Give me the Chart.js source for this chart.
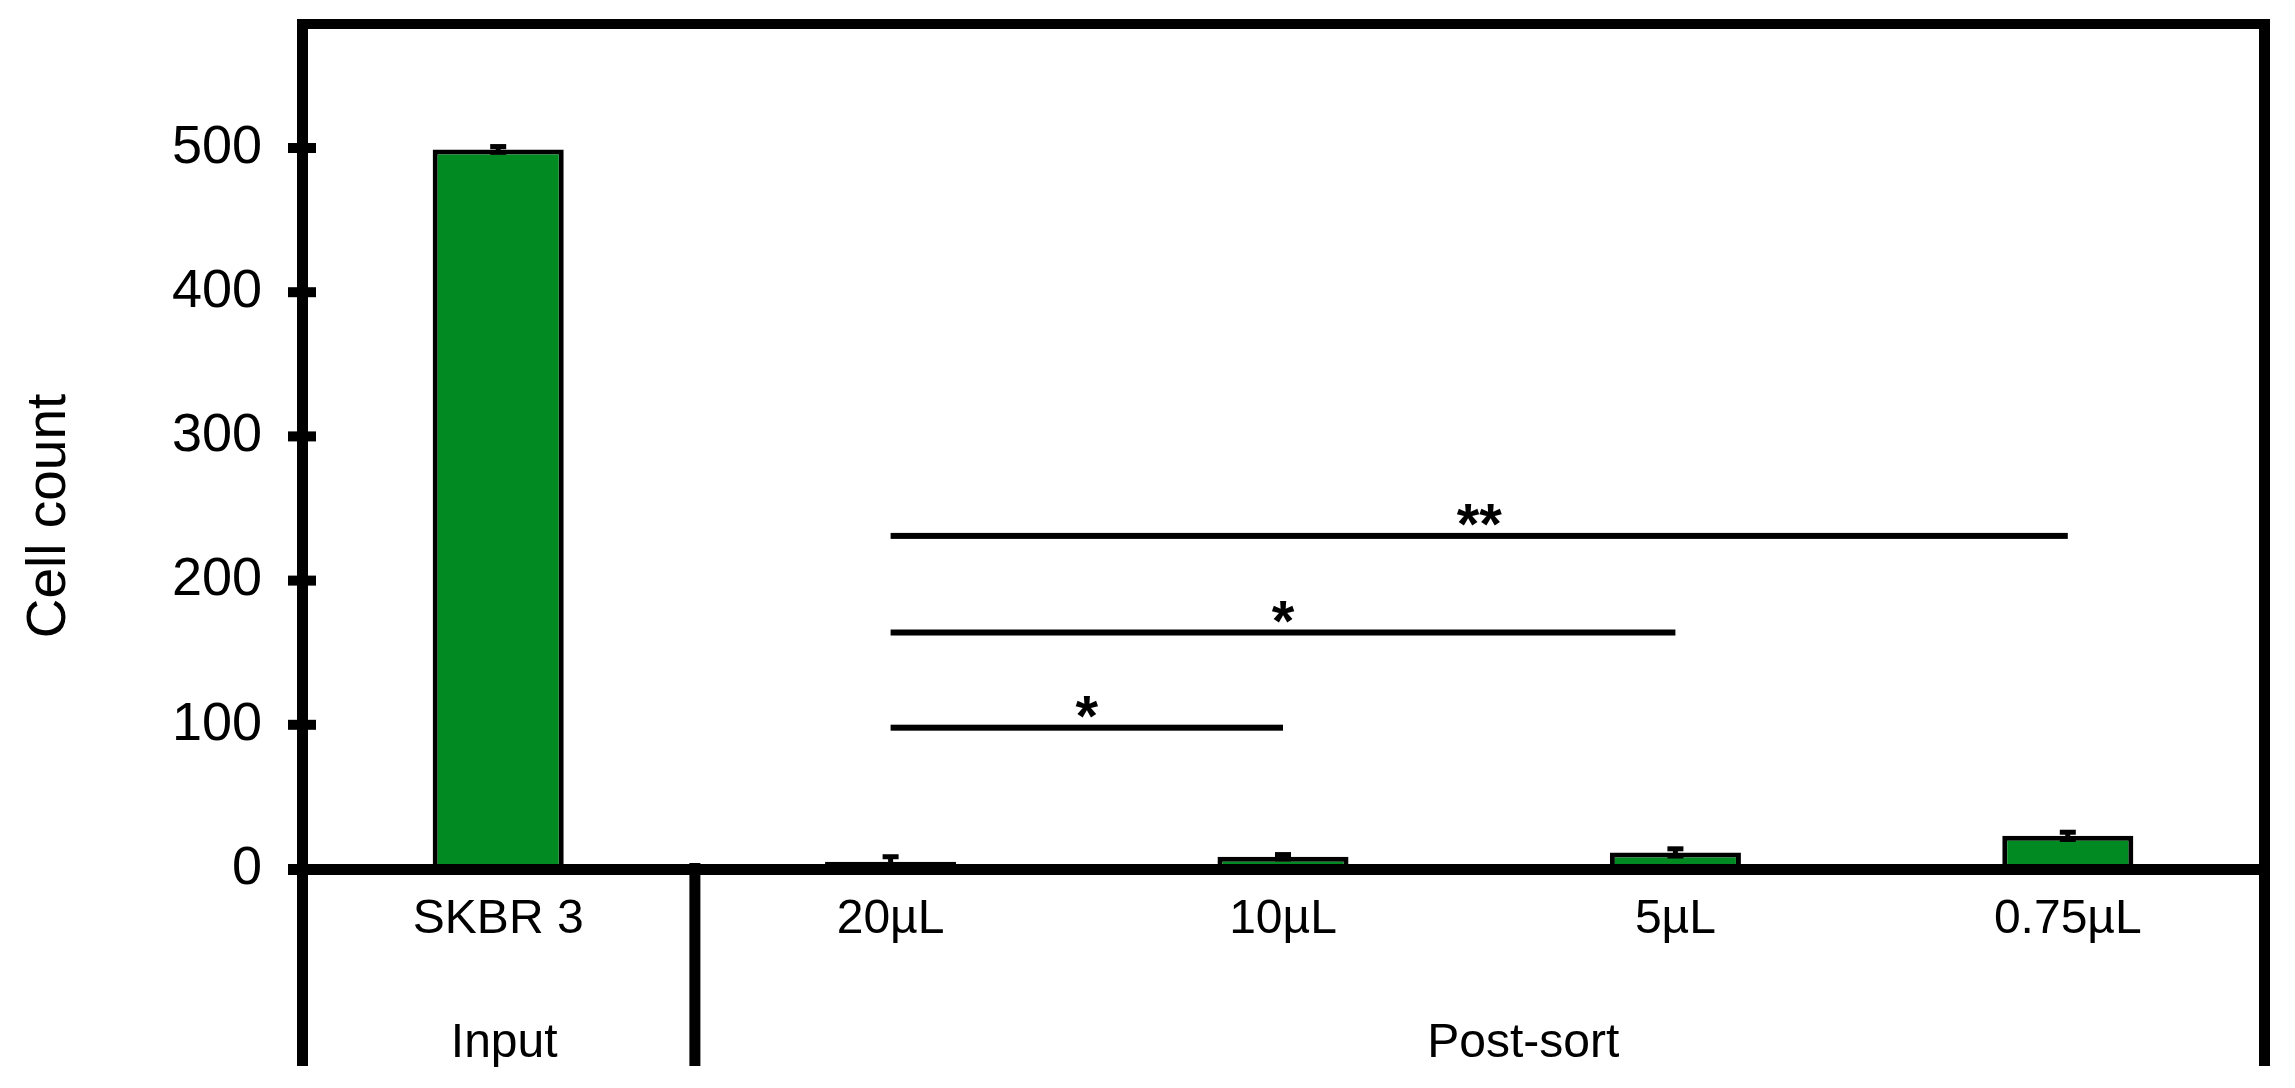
<!DOCTYPE html>
<html>
<head>
<meta charset="utf-8">
<script src="https://cdn.jsdelivr.net/npm/chart.js@4"></script>
<style>
  html, body { margin: 0; padding: 0; background: #ffffff; }
  #wrap { width: 2295px; height: 1088px; }
</style>
</head>
<body>
<div id="wrap"><canvas id="chart" width="2295" height="1088"></canvas></div>
<script>
// ---- data ----
const categories = ["SKBR 3", "20µL", "10µL", "5µL", "0.75µL"];
const cellCounts = [499, 5, 8.5, 11.5, 23];
const cellErrors = [2, 3.5, 1.5, 2.5, 2.5];
const yTicks = [0, 100, 200, 300, 400, 500];
const yMax = 586;

// group row under the categories
const groupNames = ["Input", "Post-sort"];
const groupFrom = [0, 1];
const groupTo = [0, 4];

// significance brackets
const sigFrom = [1, 1, 1];
const sigTo = [4, 3, 2];
const sigHeight = [231, 164, 98];
const sigMarks = ["**", "*", "*"];

const FONT = "'Liberation Sans', Arial, sans-serif";
const GREEN = "#008a21";

/* ---- error bars ---- */
const errorBarPlugin = {
  id: "errorBars",
  afterDatasetsDraw(chart) {
    const ctx = chart.ctx;
    const meta = chart.getDatasetMeta(0);
    const y = chart.scales.y;
    ctx.save();
    ctx.fillStyle = "#000";
    meta.data.forEach((bar, i) => {
      const top = y.getPixelForValue(cellCounts[i] + cellErrors[i]);
      const bot = y.getPixelForValue(cellCounts[i] - cellErrors[i]);
      const x = bar.x;
      ctx.fillRect(x - 2.5, top, 5, bot - top);
      ctx.fillRect(x - 8, top - 2.5, 16, 5);
      ctx.fillRect(x - 8, bot - 2.5, 16, 5);
    });
    ctx.restore();
  }
};

/* ---- frame, ticks, group labels, brackets ---- */
const groupNudge = [6, 44]; // label sits a bit right of the span centre
const framePlugin = {
  id: "frame",
  afterDraw(chart) {
    const ctx = chart.ctx;
    const a = chart.chartArea;
    const x = chart.scales.x;
    const y = chart.scales.y;
    const bottomY = 1066;
    ctx.save();
    ctx.fillStyle = "#000";

    // top and right border
    ctx.fillRect(a.left - 5, a.top - 5, a.right - a.left + 11, 10);
    ctx.fillRect(a.right - 5, a.top - 5, 11, bottomY - a.top + 5);
    // left axis running down past the labels
    ctx.fillRect(a.left - 5, a.top - 5, 11, bottomY - a.top + 5);
    // zero line
    ctx.fillRect(a.left - 14, a.bottom - 5, a.right - a.left + 20, 11);
    // y ticks crossing the axis
    yTicks.forEach(v => {
      const py = y.getPixelForValue(v);
      ctx.fillRect(a.left - 14, py - 5, 28, 10);
    });
    // separators between groups
    for (let g = 1; g < groupNames.length; g++) {
      const sx = (x.getPixelForValue(groupTo[g - 1]) + x.getPixelForValue(groupFrom[g])) / 2;
      ctx.fillRect(sx - 5, a.bottom - 6, 11, bottomY - a.bottom + 6);
    }
    // group labels
    ctx.font = "48px " + FONT;
    ctx.textAlign = "center";
    ctx.textBaseline = "alphabetic";
    groupNames.forEach((g, i) => {
      const cx = (x.getPixelForValue(groupFrom[i]) + x.getPixelForValue(groupTo[i])) / 2;
      ctx.fillText(g, cx + groupNudge[i], 1057);
    });

    // y title
    ctx.save();
    ctx.translate(50, 516);
    ctx.rotate(-Math.PI / 2);
    ctx.font = "55px " + FONT;
    ctx.textAlign = "center";
    ctx.textBaseline = "middle";
    ctx.fillText("Cell count", 0, 0);
    ctx.restore();

    // significance brackets
    ctx.font = "bold 58px " + FONT;
    ctx.textAlign = "center";
    ctx.textBaseline = "alphabetic";
    sigHeight.forEach((h, i) => {
      const x1 = x.getPixelForValue(sigFrom[i]);
      const x2 = x.getPixelForValue(sigTo[i]);
      const py = y.getPixelForValue(h);
      ctx.fillRect(x1, py - 3, x2 - x1, 6);
      ctx.fillText(sigMarks[i], (x1 + x2) / 2, py + 8);
    });
    ctx.restore();
  }
};

new Chart(document.getElementById("chart"), {
  type: "bar",
  data: {
    labels: categories,
    datasets: [{
      data: cellCounts,
      backgroundColor: GREEN,
      borderColor: "#000",
      borderWidth: 5,
      borderSkipped: false,
      categoryPercentage: 1,
      barPercentage: 0.334
    }]
  },
  options: {
    responsive: false,
    animation: false,
    devicePixelRatio: 1,
    layout: { padding: { top: 24, right: 31, left: 0, bottom: 0 } },
    plugins: {
      legend: { display: false },
      tooltip: { enabled: false }
    },
    scales: {
      x: {
        type: "category",
        offset: true,
        grid: { display: false, drawTicks: false },
        border: { display: false },
        ticks: {
          color: "#000",
          font: { size: 48, family: FONT },
          padding: 22,
          maxRotation: 0
        },
        afterFit(s) {
          s.height = 219;
          s.paddingLeft = 0;
          s.paddingRight = 0;
        }
      },
      y: {
        min: 0,
        max: yMax,
        grid: { display: false, drawTicks: false },
        border: { display: false },
        afterBuildTicks(s) { s.ticks = yTicks.map(v => ({ value: v })); },
        ticks: {
          color: "#000",
          font: { size: 54, family: FONT },
          padding: 40
        },
        afterFit(s) {
          s.width = 302;
          s.paddingTop = 0;
          s.paddingBottom = 0;
        }
      }
    }
  },
  plugins: [errorBarPlugin, framePlugin]
});
</script>
</body>
</html>
